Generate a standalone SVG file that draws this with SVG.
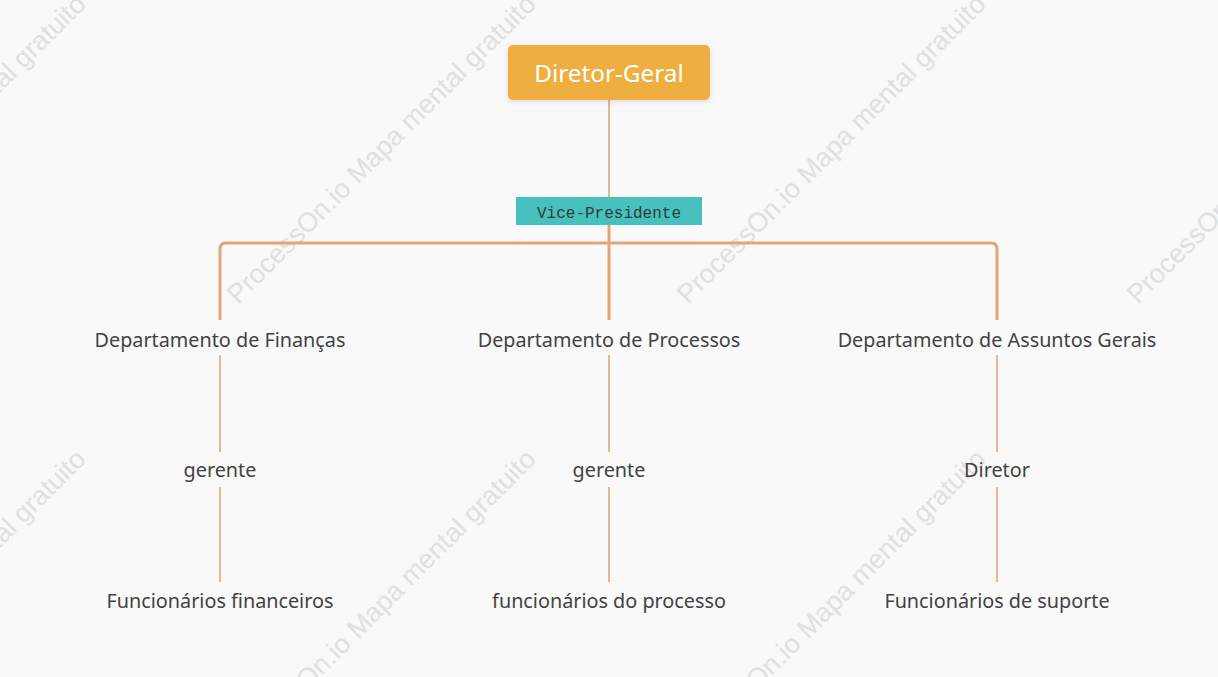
<svg xmlns="http://www.w3.org/2000/svg" width="1218" height="677" viewBox="0 0 1218 677">
<defs>
<style>
.wm{font-family:"Liberation Sans",Arial,sans-serif;font-size:27px;fill:#e0e0e0}
.lbl{font-family:"Noto Sans","Open Sans",sans-serif;font-size:19.8px;fill:#424242;text-anchor:middle}
.thin{stroke:#e8b691;stroke-width:2;fill:none}
.thick{stroke:#e3a676;stroke-width:3;fill:none}
</style>
<filter id="sh" x="-10%" y="-20%" width="120%" height="150%">
<feDropShadow dx="0" dy="2" stdDeviation="2.5" flood-color="#000" flood-opacity="0.12"/>
</filter>
</defs>
<rect width="1218" height="677" fill="#f9f9f9"/>
<g id="watermark">
<text class="wm" transform="translate(-212,305) rotate(-45)">ProcessOn.io Mapa mental gratuito</text>
<text class="wm" transform="translate(238,305) rotate(-45)">ProcessOn.io Mapa mental gratuito</text>
<text class="wm" transform="translate(688,305) rotate(-45)">ProcessOn.io Mapa mental gratuito</text>
<text class="wm" transform="translate(1138,305) rotate(-45)">ProcessOn.io Mapa mental gratuito</text>
<text class="wm" transform="translate(-212,760) rotate(-45)">ProcessOn.io Mapa mental gratuito</text>
<text class="wm" transform="translate(238,760) rotate(-45)">ProcessOn.io Mapa mental gratuito</text>
<text class="wm" transform="translate(688,760) rotate(-45)">ProcessOn.io Mapa mental gratuito</text>
</g>
<g id="connectors">
<line class="thin" x1="609" y1="100" x2="609" y2="197"/>
<path class="thick" d="M220,320 V249 Q220,243 226,243 H991 Q997,243 997,249 V320"/>
<line class="thick" x1="609" y1="225" x2="609" y2="320"/>
<line class="thin" x1="220" y1="355" x2="220" y2="452"/>
<line class="thin" x1="220" y1="487" x2="220" y2="582"/>
<line class="thin" x1="609" y1="355" x2="609" y2="452"/>
<line class="thin" x1="609" y1="487" x2="609" y2="582"/>
<line class="thin" x1="997" y1="355" x2="997" y2="452"/>
<line class="thin" x1="997" y1="487" x2="997" y2="582"/>
</g>
<g id="root">
<rect x="508" y="45" width="202" height="55" rx="5" fill="#eeaf3f" filter="url(#sh)"/>
<text x="609" y="82" font-family="'Noto Sans','Open Sans',sans-serif" font-size="24.3" fill="#ffffff" text-anchor="middle">Diretor-Geral</text>
</g>
<g id="vice">
<rect x="516" y="197" width="186" height="28" fill="#47c1be"/>
<text x="609" y="218" font-family="'Liberation Mono',monospace" font-size="16" fill="#2f3a3a" text-anchor="middle">Vice-Presidente</text>
</g>
<g id="dep-financas"><text class="lbl" x="220" y="347">Departamento de Finanças</text></g>
<g id="dep-processos"><text class="lbl" x="609" y="347">Departamento de Processos</text></g>
<g id="dep-assuntos"><text class="lbl" x="997" y="347">Departamento de Assuntos Gerais</text></g>
<g id="gerente-1"><text class="lbl" x="220" y="477">gerente</text></g>
<g id="gerente-2"><text class="lbl" x="609" y="477">gerente</text></g>
<g id="diretor"><text class="lbl" x="997" y="477">Diretor</text></g>
<g id="func-fin"><text class="lbl" x="220" y="608">Funcionários financeiros</text></g>
<g id="func-proc"><text class="lbl" x="609" y="608">funcionários do processo</text></g>
<g id="func-sup"><text class="lbl" x="997" y="608">Funcionários de suporte</text></g>
</svg>
